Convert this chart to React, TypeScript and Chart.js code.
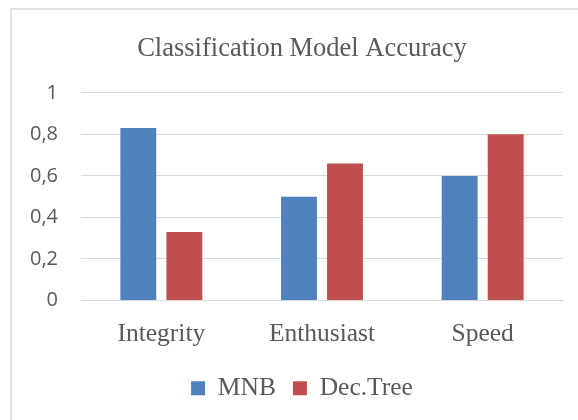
import React, { useEffect, useRef } from "react";
import { Chart, registerables } from "chart.js";

Chart.register(...registerables);

const categories = ["Integrity", "Enthusiast", "Speed"];
const mnbValues = [0.83, 0.5, 0.6];
const decTreeValues = [0.33, 0.66, 0.8];
const yTickLabels = ["0", "0,2", "0,4", "0,6", "0,8", "1"];
const titleText = "Classification Model Accuracy";
const seriesNames = ["MNB", "Dec.Tree"];

const framePlugin = {
  id: "frame",
  afterLayout(chart: any) {
    // let the y tick labels use the space left of the axis box (avoids clipping)
    if (chart.scales.y) chart.scales.y.left = 0;
  },
  beforeDraw(chart: any) {
    const ctx = chart.ctx;
    ctx.save();
    ctx.fillStyle = "#ffffff";
    ctx.fillRect(0, 0, chart.width, chart.height);
    ctx.strokeStyle = "#d9d9d9";
    ctx.lineWidth = 1.5;
    ctx.strokeRect(11, 9, chart.width + 50, chart.height + 50);
    ctx.restore();
  },
};

export default function App() {
  const ref = useRef<HTMLCanvasElement>(null);
  useEffect(() => {
    if (!ref.current) return;
    const chart = new Chart(ref.current, {
      type: "bar",
      data: {
        labels: categories,
        datasets: [
          {
            label: seriesNames[0],
            data: mnbValues,
            backgroundColor: "#4f81bd",
            categoryPercentage: 0.573,
            barPercentage: 0.78,
          },
          {
            label: seriesNames[1],
            data: decTreeValues,
            backgroundColor: "#c0504d",
            categoryPercentage: 0.573,
            barPercentage: 0.78,
          },
        ],
      },
      options: {
        responsive: false,
        animation: false,
        layout: { padding: { left: 41, right: 15, top: 0, bottom: 9 } },
        plugins: {
          title: {
            display: true,
            text: titleText,
            color: "#595959",
            font: { family: "'Liberation Serif', serif", size: 26.5, weight: "normal" },
            padding: { top: 33, bottom: 28 },
          },
          legend: {
            display: true,
            position: "bottom",
            labels: {
              color: "#595959",
              font: { family: "'Liberation Serif', serif", size: 25.5 },
              boxWidth: 14,
              boxHeight: 14,
              padding: 17,
            },
          },
          tooltip: { enabled: false },
        },
        scales: {
          x: {
            grid: { display: false, drawTicks: false },
            border: { display: true, color: "#d9d9d9", width: 1 },
            ticks: {
              color: "#595959",
              font: { family: "'Liberation Serif', serif", size: 25.5 },
              padding: 18,
            },
            afterFit: (s: any) => {
              s.height = 58;
            },
          },
          y: {
            min: 0,
            max: 1,
            grid: { color: "#d9d9d9", drawTicks: false },
            border: { display: false },
            ticks: {
              stepSize: 0.2,
              color: "#595959",
              font: { family: "'Open Sans', sans-serif", size: 20 },
              padding: 23,
              callback: (_v: any, i: number) => yTickLabels[i],
            },
            afterFit: (s: any) => {
              s.width = 40;
            },
          },
        },
      },
      plugins: [framePlugin],
    });
    return () => chart.destroy();
  }, []);
  return (
    <div style={{ position: "fixed", left: 0, top: 0, width: 578, height: 420, background: "#fff" }}>
      <canvas ref={ref} width={578} height={420} style={{ width: 578, height: 420, display: "block" }} />
    </div>
  );
}
